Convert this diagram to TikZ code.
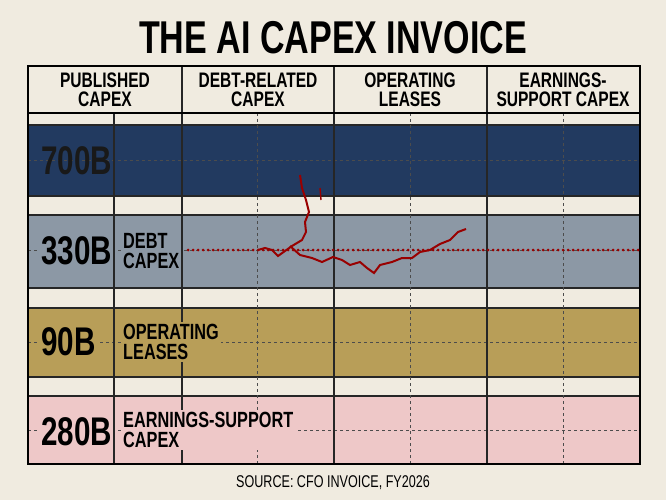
\documentclass[tikz,border=0pt]{standalone}
\usepackage{fontspec}
\newfontfamily\cond[FakeStretch=0.74]{Liberation Sans Bold}
\newfontfamily\condr[FakeStretch=0.74]{Liberation Sans}
\definecolor{navy}{RGB}{34,58,96}
\definecolor{slate}{RGB}{140,152,165}
\definecolor{gold}{RGB}{184,158,88}
\definecolor{pinkb}{RGB}{238,200,200}
\definecolor{paper}{RGB}{240,235,224}
\begin{document}
\begin{tikzpicture}[x=1pt,y=-1pt,
  hdr/.style={font=\cond\fontsize{21}{19}\selectfont,align=center},
  big/.style={font=\cond\fontsize{40}{40}\selectfont,anchor=west,inner sep=1pt},
  lbl/.style={font=\cond\fontsize{22}{20}\selectfont,align=left,anchor=west,inner sep=2pt},
  grid/.style={line width=1.2pt,draw=black!85},
  red/.style={draw=red!60!black,line width=2pt}]
\fill[paper] (0,0) rectangle (666,500);
\useasboundingbox (0,0) rectangle (666,500);
\node[font=\cond\fontsize{46}{46}\selectfont] (title) at (333,38) {THE AI CAPEX INVOICE};
% bands
\fill[navy] (28,125) rectangle (640,196);
\fill[slate] (28,215) rectangle (640,288);
\fill[gold] (28,308) rectangle (640,377);
\fill[pinkb] (28,396) rectangle (640,464);
% horizontal dashed center lines
\foreach \y in {160,250,342,430} \draw[dashed,black!70,line width=0.6pt] (28,\y) -- (640,\y);
% band borders
\foreach \y in {125,196,215,288,308,377,396} \draw[grid] (28,\y) -- (640,\y);
% vertical lines
\foreach \x in {182,334,487} \draw[grid] (\x,66) -- (\x,464);
\draw[grid] (114,113) -- (114,464);
\foreach \x in {257,410,563} \draw[dashed,black!70,line width=0.8pt] (\x,113) -- (\x,464);
\draw[line width=1.6pt] (28,66) rectangle (640,464);
\draw[line width=1.6pt] (28,113) -- (640,113);
% headers
\node[hdr] (h1) at (105,90) {PUBLISHED\\CAPEX};
\node[hdr] (h2) at (258,90) {DEBT-RELATED\\CAPEX};
\node[hdr] (h3) at (410,90) {OPERATING\\LEASES};
\node[hdr] (h4) at (563,90) {EARNINGS-\\SUPPORT CAPEX};
% values
\node[big,text=black!90] (v1) at (40,161) {700B};
\node[big,fill=slate] (v2) at (40,251) {330B};
\node[big,fill=gold] (v3) at (40,342) {90B};
\node[big,fill=pinkb] (v4) at (40,432) {280B};
\node[lbl,fill=slate] (l2) at (121,251) {DEBT\\CAPEX};
\node[lbl,fill=gold] (l3) at (121,342) {OPERATING\\LEASES};
\node[lbl,fill=pinkb] (l4) at (121,430) {EARNINGS-SUPPORT\\CAPEX};
% red
\draw[red,line width=3pt,line cap=round,dash pattern=on 0pt off 5pt] (188,250) -- (640,250);
\draw[red] (258,250) -- (265,248) -- (272,250) -- (278,256) -- (285,251) -- (292,246) -- (302,240) -- (306,232) -- (305,222) -- (309,212) -- (306,200) -- (302,188) -- (300,175);
\draw[red] (290,246) -- (300,255) -- (312,258) -- (322,262) -- (333,257) -- (342,260) -- (350,265) -- (360,262) -- (367,268) -- (374,273) -- (380,265) -- (392,262) -- (402,258) -- (412,258) -- (420,252) -- (430,250) -- (440,244) -- (450,240) -- (458,232) -- (466,229);
\draw[red,line width=1.4pt] (320,188) -- (321,200);
\node[font=\condr\fontsize{17}{17}\selectfont] (src) at (333,483) {SOURCE: CFO INVOICE, FY2026};
\end{tikzpicture}
\end{document}
